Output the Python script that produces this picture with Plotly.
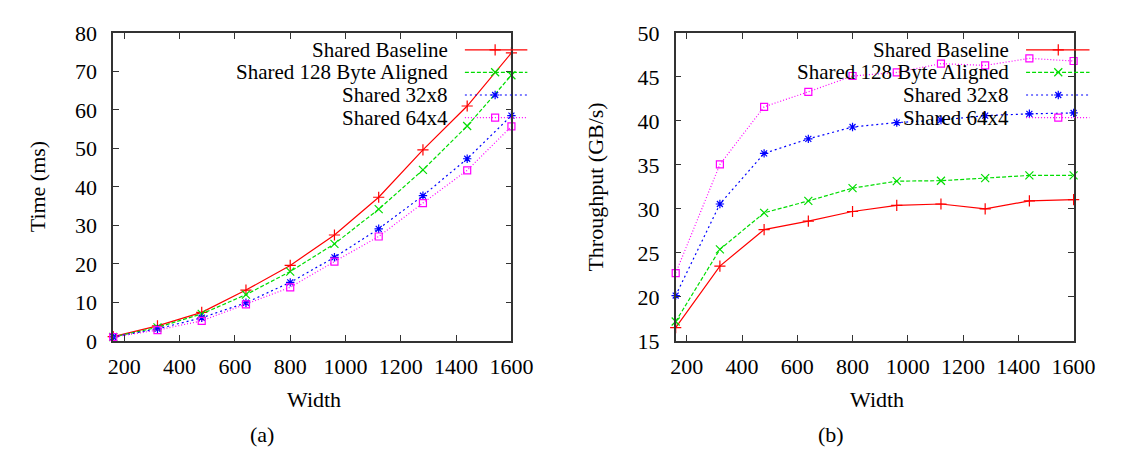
import plotly.graph_objects as go

widths = [160, 320, 480, 640, 800, 960, 1120, 1280, 1440, 1600]
series_names = ["Shared Baseline", "Shared 128 Byte Aligned", "Shared 32x8", "Shared 64x4"]

time_baseline = [1.1, 3.9, 7.4, 13.2, 19.6, 27.5, 37.3, 49.6, 61.0, 74.8]
time_aligned = [1.0, 3.5, 7.0, 12.0, 18.0, 25.2, 34.2, 44.4, 55.8, 69.0]
time_32x8 = [1.0, 3.1, 6.0, 9.9, 15.2, 21.7, 29.1, 37.7, 47.3, 58.5]
time_64x4 = [1.0, 2.8, 5.2, 9.5, 13.9, 20.6, 27.1, 35.8, 44.3, 55.7]

tp_baseline = [16.5, 23.5, 27.65, 28.6, 29.7, 30.4, 30.55, 30.0, 30.9, 31.05]
tp_aligned = [17.2, 25.4, 29.55, 30.9, 32.35, 33.15, 33.2, 33.5, 33.8, 33.8]
tp_32x8 = [20.15, 30.55, 36.3, 37.95, 39.3, 39.8, 40.1, 40.6, 40.8, 40.9]
tp_64x4 = [22.7, 35.05, 41.6, 43.3, 45.1, 45.5, 46.5, 46.3, 47.1, 46.8]

x_ticks = [200, 400, 600, 800, 1000, 1200, 1400, 1600]
time_ticks = [0, 10, 20, 30, 40, 50, 60, 70, 80]
tp_ticks = [15, 20, 25, 30, 35, 40, 45, 50]

colors = ["#ff0000", "#00dd00", "#0000ff", "#ff00ff"]
dashes = ["solid", "4px,2px", "2px,3px", "1px,2px"]
symbols = ["cross-thin-open", "x-thin-open", "asterisk-open", "square-open"]
msizes = [8, 8, 7, 7]

W, H = 1124, 460
FONT = "Liberation Serif"
LFS = 21
FS = 22
TFS = 22

fig = go.Figure()

time_series = [time_baseline, time_aligned, time_32x8, time_64x4]
tp_series = [tp_baseline, tp_aligned, tp_32x8, tp_64x4]

for i in range(4):
    fig.add_trace(go.Scatter(
        x=widths, y=time_series[i], mode="lines+markers", xaxis="x", yaxis="y",
        line=dict(color=colors[i], width=1.2, dash=dashes[i]),
        marker=dict(symbol=symbols[i], size=msizes[i], color=colors[i],
                    line=dict(color=colors[i], width=1.2)),
        cliponaxis=False, showlegend=False, name=series_names[i]))
    fig.add_trace(go.Scatter(
        x=widths, y=tp_series[i], mode="lines+markers", xaxis="x2", yaxis="y2",
        line=dict(color=colors[i], width=1.2, dash=dashes[i]),
        marker=dict(symbol=symbols[i], size=msizes[i], color=colors[i],
                    line=dict(color=colors[i], width=1.2)),
        cliponaxis=False, showlegend=False, name=series_names[i]))

# pixel-based overlay axes for the hand-drawn legends
legend_rows = [31.5, 55.3, 79.3, 103.3]
legend_sets = [
    dict(text_right=447.7, line_l=463, line_r=527, mark=494),
    dict(text_right=1023, line_l=1038, line_r=1103, mark=1071),
]
annotations = []
for ls in legend_sets:
    for i in range(4):
        yrow = legend_rows[i]
        fig.add_trace(go.Scatter(
            x=[ls["line_l"], ls["line_r"]], y=[yrow, yrow], mode="lines",
            xaxis="x3", yaxis="y3",
            line=dict(color=colors[i], width=1.2, dash=dashes[i]),
            showlegend=False, hoverinfo="skip", cliponaxis=False))
        fig.add_trace(go.Scatter(
            x=[ls["mark"]], y=[yrow], mode="markers", xaxis="x3", yaxis="y3",
            marker=dict(symbol=symbols[i], size=msizes[i], color=colors[i],
                        line=dict(color=colors[i], width=1.2)),
            showlegend=False, hoverinfo="skip", cliponaxis=False))
        annotations.append(dict(
            x=ls["text_right"], y=yrow, xref="x3", yref="y3", text=series_names[i],
            showarrow=False, xanchor="right", yanchor="middle",
            font=dict(family=FONT, size=LFS, color="black")))

def xdom(a, b):
    return [a / W, b / W]

ydom = [1 - 339.3 / H, 1 - 13.6 / H]

axis_common = dict(
    showgrid=False, zeroline=False, showline=True, linecolor="#333333", linewidth=1.6,
    mirror="ticks", ticks="inside", ticklen=6, tickwidth=1.2, tickcolor="#333333",
    tickfont=dict(family=FONT, size=TFS, color="black"),
)

fig.update_layout(
    width=W, height=H,
    margin=dict(l=0, r=0, t=0, b=0),
    paper_bgcolor="white", plot_bgcolor="rgba(0,0,0,0)",
    xaxis=dict(domain=xdom(102.7, 510.7), range=[160, 1600], tickvals=x_ticks,
               anchor="y", ticklabelstandoff=5, **axis_common),
    yaxis=dict(domain=ydom, range=[0, 80], tickvals=time_ticks, anchor="x",
               ticklabelstandoff=10, **axis_common),
    xaxis2=dict(domain=xdom(679, 1086.7), range=[160, 1600], tickvals=x_ticks,
                anchor="y2", ticklabelstandoff=5, **axis_common),
    yaxis2=dict(domain=ydom, range=[15, 50], tickvals=tp_ticks, anchor="x2",
                ticklabelstandoff=10, **axis_common),
    xaxis3=dict(domain=[0, 1], range=[0, W], visible=False, anchor="y3", fixedrange=True),
    yaxis3=dict(domain=[0, 1], range=[H, 0], visible=False, anchor="x3", fixedrange=True),
)

# axis titles and captions
for txt, x, y, ang in [
    ("Width", 308, 401, 0), ("Width", 885, 401, 0),
    ("(a)", 255, 438, 0), ("(b)", 838, 438, 0),
    ("Time (ms)", 26, 176.5, -90), ("Throughput (GB/s)", 597, 176.5, -90),
]:
    annotations.append(dict(
        x=x, y=y, xref="x3", yref="y3", text=txt, showarrow=False, textangle=ang,
        xanchor="center", yanchor="middle",
        font=dict(family=FONT, size=FS, color="black")))

fig.update_layout(annotations=annotations)

fig.write_html("out.html")
